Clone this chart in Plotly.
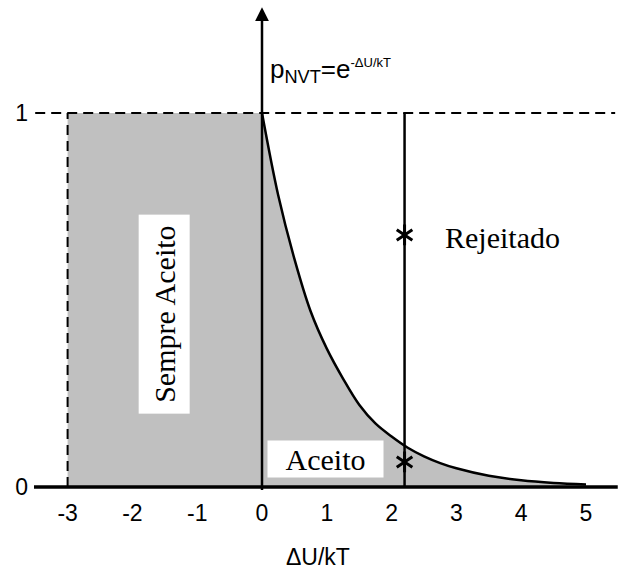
import plotly.graph_objects as go

# curve: p = exp(-dU/kT) for dU/kT >= 0
curve_x = [0, 0.25, 0.5, 0.75, 1.0, 1.25, 1.5, 1.75, 2.0, 2.25, 2.5, 2.75, 3.0, 3.5, 4.0, 4.5, 5.0]
curve_y = [1.0, 0.78, 0.61, 0.47, 0.37, 0.29, 0.22, 0.17, 0.135, 0.105, 0.082, 0.064, 0.05, 0.03, 0.018, 0.011, 0.007]

always_x = [-3, -3, 0]      # "Sempre Aceito" region edges
always_y = [0, 1, 1]

trial_x = 2.2                # trial move
star_x = [2.2, 2.2]
star_y = [0.674, 0.067]      # random numbers drawn

x_ticks = [-3, -2, -1, 0, 1, 2, 3, 4, 5]
y_ticks = [0, 1]

FG = "#000000"
GRAY = "#c0c0c0"
SANS = "Liberation Sans, Arial, sans-serif"
SERIF = "Liberation Serif, Times New Roman, serif"

fig = go.Figure()

# shaded acceptance region
fx = always_x + curve_x + [curve_x[-1], always_x[0]]
fy = always_y + curve_y + [0, 0]
fig.add_trace(go.Scatter(x=fx, y=fy, mode="lines", fill="toself", fillcolor=GRAY,
                         line=dict(width=0, color=GRAY), hoverinfo="skip", showlegend=False))

# exponential curve
fig.add_trace(go.Scatter(x=curve_x, y=curve_y, mode="lines", line=dict(color=FG, width=2.5, shape="spline"),
                         showlegend=False))

# dashed lines
fig.add_trace(go.Scatter(x=[-3.5, 5.45], y=[1, 1], mode="lines",
                         line=dict(color=FG, width=2, dash="10px,6px"), showlegend=False))
fig.add_trace(go.Scatter(x=[-3, -3], y=[0, 1], mode="lines",
                         line=dict(color=FG, width=2, dash="10px,6px"), showlegend=False))

# trial vertical line
fig.add_trace(go.Scatter(x=[trial_x, trial_x], y=[0, 1], mode="lines",
                         line=dict(color=FG, width=2.5), showlegend=False))

# x axis line
fig.add_trace(go.Scatter(x=[-3.52, 5.49], y=[0, 0], mode="lines",
                         line=dict(color=FG, width=3.5), showlegend=False))

# stars
for sym in ["y-up-open", "y-down-open"]:
    fig.add_trace(go.Scatter(x=star_x, y=star_y, mode="markers",
                             marker=dict(symbol=sym, size=13, color=FG, line=dict(color=FG, width=3)),
                             showlegend=False))

annotations = [
    # vertical axis with arrow
    dict(x=0, y=1.283, ax=0, ay=-0.012, xref="x", yref="y", axref="x", ayref="y",
         text="", showarrow=True, arrowhead=2, arrowsize=1.1, arrowwidth=2.5, arrowcolor=FG),
    dict(x=0.1, y=1.115, xref="x", yref="y", xanchor="left", yanchor="middle", showarrow=False,
         text="p<sub>NVT</sub>=e<sup><span style='font-size:13px'>-ΔU/kT</span></sup>",
         font=dict(family=SANS, size=26, color=FG)),
    dict(x=3.71, y=0.666, xref="x", yref="y", showarrow=False, text="Rejeitado",
         font=dict(family=SERIF, size=30, color=FG)),
    dict(x=0.98, y=0.075, xref="x", yref="y", showarrow=False, text="Aceito",
         bgcolor="#ffffff", width=115, height=36, borderpad=0,
         font=dict(family=SERIF, size=30, color=FG)),
    dict(x=-1.51, y=0.4626, xref="x", yref="y", showarrow=False, text="Sempre Aceito",
         textangle=-90, bgcolor="#ffffff", width=198, height=50, borderpad=0,
         font=dict(family=SERIF, size=30, color=FG)),
    dict(x=0.86, y=-0.122, xref="x", yref="paper", xanchor="center", yanchor="middle",
         showarrow=False, text="ΔU/kT",
         font=dict(family=SANS, size=23, color=FG)),
]

fig.update_layout(
    width=618, height=572,
    margin=dict(l=34, r=0, t=5, b=75),
    paper_bgcolor="#ffffff", plot_bgcolor="#ffffff",
    annotations=annotations,
    xaxis=dict(range=[-3.5185, 5.4938], showgrid=False, zeroline=False, showline=False,
               tickmode="array", tickvals=x_ticks, ticktext=[str(v) for v in x_ticks],
               tickfont=dict(family=SANS, size=23, color=FG), ticks="", fixedrange=True),
    yaxis=dict(range=[-0.02674, 1.2888], showgrid=False, zeroline=False, showline=False,
               tickmode="array", tickvals=y_ticks, ticktext=[str(v) for v in y_ticks],
               tickfont=dict(family=SANS, size=23, color=FG), ticks="", ticklabelstandoff=5,
               fixedrange=True),
    showlegend=False,
)

fig.write_html("out.html")
